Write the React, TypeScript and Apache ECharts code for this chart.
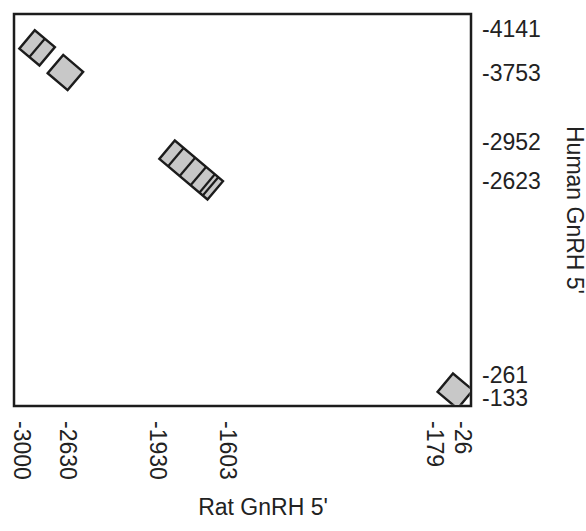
import React, { useEffect, useRef } from 'react';
import * as echarts from 'echarts';

// Tick labels (bp positions)
const ratTicks = [-3000, -2630, -1930, -1603, -179, -26];
const humanTicks = [-4141, -3753, -2952, -2623, -261, -133];

// Homology blocks: centre-line start / end (rat, human)
const blockRatStart = [-2975, -2690, -1889, -131];
const blockRatEnd = [-2881, -2597, -1664, -17];
const blockHumanStart = [-4083, -3800, -2909, -218];
const blockHumanEnd = [-3989, -3706, -2571, -125];
// Internal subdivisions of each block (rat positions)
const blockDividers: number[][] = [[-2928], [], [-1848, -1794, -1743, -1702, -1686], []];

// Schematic (not-to-scale) axes: compressed stretches
const ratAxisBreaks = [
  [-2867.8, -2715.5],
  [-2481.9, -2202.3],
  [-1268.1, -809.7],
  [-108.9, -88.1],
];
const humanAxisBreaks = [
  [-3968.5, -3822.6],
  [-3544.3, -3130.1],
  [-2796.2, -2684.2],
  [-2239.0, -956.6],
];

const FONT = '"Liberation Sans", Arial, Helvetica, sans-serif';
const TEXT = '#222222';
const INK = '#1c1c1c';

export default function App() {
  const ref = useRef<HTMLDivElement>(null);

  useEffect(() => {
    if (!ref.current) return;
    const chart = echarts.init(ref.current, undefined, { renderer: 'svg' });

    const data = blockRatStart.map((r, i) => [r, blockHumanStart[i], blockRatEnd[i], blockHumanEnd[i], i]);
    const halfW = 12;

    const option: any = {
      animation: false,
      backgroundColor: '#ffffff',
      textStyle: { fontFamily: FONT },
      grid: {
        show: true,
        left: 14,
        top: 14,
        width: 457,
        height: 392,
        borderColor: INK,
        borderWidth: 2.5,
        backgroundColor: 'transparent',
        containLabel: false,
        outerBoundsMode: 'none',
      },
      xAxis: {
        type: 'value',
        position: 'bottom',
        min: -3036,
        max: 10,
        breaks: ratAxisBreaks.map(([s, e]) => ({ start: s, end: e, gap: 0 })),
        breakArea: { show: false },
        axisLine: { show: false },
        axisTick: { show: false },
        splitLine: { show: false },
        axisLabel: {
          customValues: ratTicks,
          rotate: -90,
          margin: 15,
          fontSize: 23,
          lineHeight: 20,
          color: TEXT,
          fontFamily: FONT,
          formatter: (v: number) => String(v),
        },
        name: "Rat GnRH 5'",
        nameLocation: 'middle',
        nameGap: 89,
        nameTextStyle: { fontSize: 23, color: TEXT, fontFamily: FONT, padding: [0, 0, 0, 41] },
      },
      yAxis: {
        type: 'value',
        position: 'right',
        inverse: true,
        min: -4224.5,
        max: -88.5,
        breaks: humanAxisBreaks.map(([s, e]) => ({ start: s, end: e, gap: 0 })),
        breakArea: { show: false },
        axisLine: { show: false },
        axisTick: { show: false },
        splitLine: { show: false },
        axisLabel: {
          customValues: humanTicks,
          margin: 11,
          fontSize: 23,
          lineHeight: 20,
          color: TEXT,
          fontFamily: FONT,
          formatter: (v: number) => String(v),
        },
        name: 'Human GnRH 5\'',
        nameLocation: 'middle',
        nameRotate: -90,
        nameGap: 92,
        nameTextStyle: { fontSize: 23, color: TEXT, fontFamily: FONT },
      },
      series: [
        {
          type: 'custom',
          data,
          encode: { x: [0, 2], y: [1, 3] },
          renderItem: (params: any, api: any) => {
            const idx = api.value(4) as number;
            const p0 = api.coord([api.value(0), api.value(1)]);
            const p1 = api.coord([api.value(2), api.value(3)]);
            const dx = p1[0] - p0[0];
            const dy = p1[1] - p0[1];
            const len = Math.sqrt(dx * dx + dy * dy) || 1;
            const nx = -dy / len;
            const ny = dx / len;
            const pts = [
              [p0[0] + nx * halfW, p0[1] + ny * halfW],
              [p1[0] + nx * halfW, p1[1] + ny * halfW],
              [p1[0] - nx * halfW, p1[1] - ny * halfW],
              [p0[0] - nx * halfW, p0[1] - ny * halfW],
            ];
            const children: any[] = [
              {
                type: 'polygon',
                shape: { points: pts },
                style: { fill: '#c8c8c8', stroke: INK, lineWidth: 2.4, lineJoin: 'miter' },
              },
            ];
            (blockDividers[idx] || []).forEach((r) => {
              const x = api.coord([r, api.value(1)])[0];
              const t = (x - p0[0]) / (dx || 1);
              const cx = p0[0] + t * dx;
              const cy = p0[1] + t * dy;
              children.push({
                type: 'line',
                shape: { x1: cx + nx * halfW, y1: cy + ny * halfW, x2: cx - nx * halfW, y2: cy - ny * halfW },
                style: { stroke: INK, lineWidth: 2.2 },
              });
            });
            const cs = params.coordSys;
            return {
              type: 'group',
              clipPath: {
                type: 'rect',
                shape: { x: cs.x + 1.2, y: cs.y + 1.2, width: cs.width - 2.4, height: cs.height - 2.4 },
              },
              children,
            };
          },
        },
      ],
    };

    chart.setOption(option);
    return () => chart.dispose();
  }, []);

  return (
    <div
      ref={ref}
      style={{ position: 'fixed', left: 0, top: 0, width: 586, height: 531, background: '#fff' }}
    />
  );
}
